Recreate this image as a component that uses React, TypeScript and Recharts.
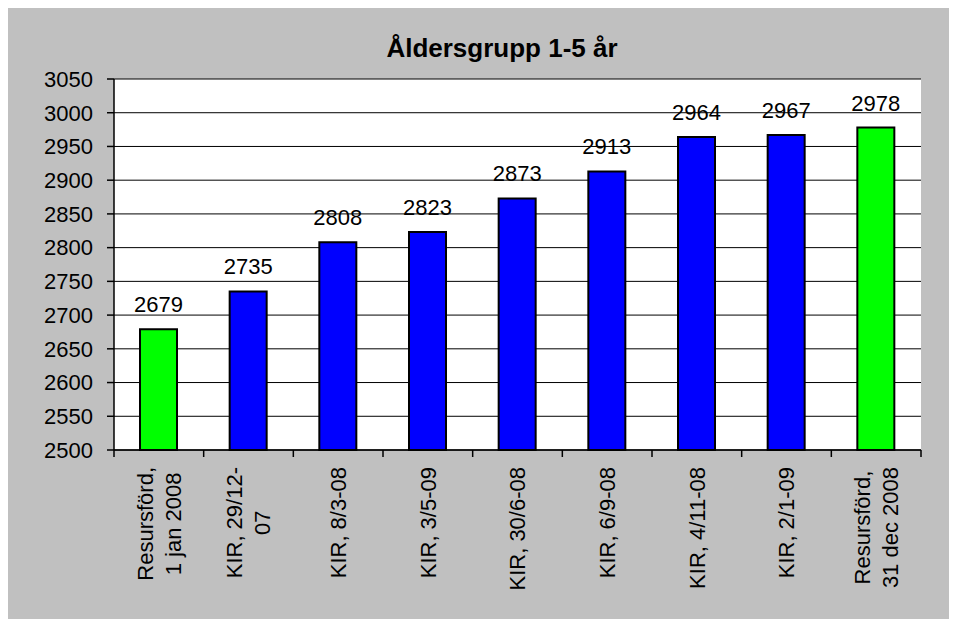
// Åldersgrupp 1-5 år — Excel-style column chart rebuilt with Recharts.
import { BarChart, Bar, XAxis, YAxis, CartesianGrid, Cell, LabelList } from "recharts";

// Category labels (line breaks as in the original axis)
const categories = [
  "Resursförd,\n1 jan 2008",
  "KIR, 29/12-\n07",
  "KIR, 8/3-08",
  "KIR, 3/5-09",
  "KIR, 30/6-08",
  "KIR, 6/9-08",
  "KIR, 4/11-08",
  "KIR, 2/1-09",
  "Resursförd,\n31 dec 2008",
];

const values = [2679, 2735, 2808, 2823, 2873, 2913, 2964, 2967, 2978];

// Which source each bar comes from (decides the colour)
const sources = ["resurs", "kir", "kir", "kir", "kir", "kir", "kir", "kir", "resurs"];

const yTicks = [2500, 2550, 2600, 2650, 2700, 2750, 2800, 2850, 2900, 2950, 3000, 3050];

const TITLE = "Åldersgrupp 1-5 år";

const data = categories.map((name, i) => ({ name, value: values[i], source: sources[i] }));

const W = 941;
const H = 611;
const MARGIN = { top: 71, right: 28, left: 0, bottom: 0 };
const Y_AXIS_W = 106;
const X_AXIS_H = 169;
const BAND = (W - MARGIN.left - MARGIN.right - Y_AXIS_W) / categories.length;

const FONT = '"Liberation Sans", Arial, Helvetica, sans-serif';
const FS = 22;

const colorFor = (src: string) => (src === "resurs" ? "#00ff00" : "#0000ff");

// measure text once so multi-line labels can be centred on each other
const ctx = typeof document !== "undefined" ? document.createElement("canvas").getContext("2d") : null;
function textWidth(s: string) {
  if (!ctx) return s.length * 11;
  ctx.font = `${FS}px "Liberation Sans"`;
  return ctx.measureText(s).width;
}

// Rotated category label + tick marks on the band edges (Excel style)
function CategoryTick(props: any) {
  const { x, y, payload, index } = props;
  const lines = String(payload.value).split("\n");
  const widest = Math.max(...lines.map(textWidth));
  const midY = y + 17 + widest / 2;
  return (
    <g>
      <line x1={x - BAND / 2} x2={x - BAND / 2} y1={y} y2={y + 7} stroke="#000" strokeWidth={1.5} />
      {index === categories.length - 1 && (
        <line x1={x + BAND / 2} x2={x + BAND / 2} y1={y} y2={y + 7} stroke="#000" strokeWidth={1.5} />
      )}
      {lines.map((line, i) => {
        const lx = x + 8 + (i - (lines.length - 1) / 2) * 28;
        return (
          <text
            key={i}
            x={lx}
            y={midY}
            transform={`rotate(-90 ${lx} ${midY})`}
            textAnchor="middle"
            fontSize={FS}
            fontFamily={FONT}
            fill="#000"
          >
            {line}
          </text>
        );
      })}
    </g>
  );
}

export default function App() {
  return (
    <div
      style={{
        position: "absolute",
        left: 8,
        top: 8,
        width: W,
        height: H,
        overflow: "hidden",
        background: "#c0c0c0",
        fontFamily: FONT,
      }}
    >
      <BarChart width={W} height={H} data={data} margin={MARGIN} barSize={37} style={{ display: "block" }}>
        <CartesianGrid vertical={false} stroke="#000" strokeWidth={1} fill="#ffffff" fillOpacity={1} />
        <XAxis
          dataKey="name"
          interval={0}
          height={X_AXIS_H}
          tickSize={0}
          tickMargin={0}
          tickLine={false}
          axisLine={{ stroke: "#000", strokeWidth: 1.5 }}
          tick={<CategoryTick />}
        />
        <XAxis
          xAxisId="top"
          dataKey="name"
          orientation="top"
          height={0}
          tick={false}
          tickLine={false}
          axisLine={{ stroke: "#808080", strokeWidth: 2 }}
        />
        <YAxis
          domain={[2500, 3050]}
          ticks={yTicks}
          interval={0}
          width={Y_AXIS_W}
          tickSize={7}
          tickMargin={14}
          tickLine={{ stroke: "#000", strokeWidth: 1.5 }}
          axisLine={{ stroke: "#000", strokeWidth: 1.5 }}
          tick={{ fontSize: FS, fill: "#000", fontFamily: FONT }}
        />
        <YAxis
          yAxisId="right"
          orientation="right"
          domain={[2500, 3050]}
          width={0}
          tick={false}
          tickLine={false}
          axisLine={{ stroke: "#808080", strokeWidth: 2 }}
        />
        <Bar dataKey="value" stroke="#000" strokeWidth={2} isAnimationActive={false}>
          {data.map((d, i) => (
            <Cell key={i} fill={colorFor(d.source)} />
          ))}
          <LabelList
            dataKey="value"
            position="top"
            offset={17}
            fill="#000"
            fontSize={FS}
            fontFamily={FONT}
          />
        </Bar>
      </BarChart>
      {/* chart title */}
      <svg width={W} height={H} style={{ position: "absolute", left: 0, top: 0, pointerEvents: "none" }}>
        <text x={494} y={49} textAnchor="middle" fontSize={26} fontWeight="bold" fontFamily={FONT} fill="#000">
          {TITLE}
        </text>
      </svg>
    </div>
  );
}
